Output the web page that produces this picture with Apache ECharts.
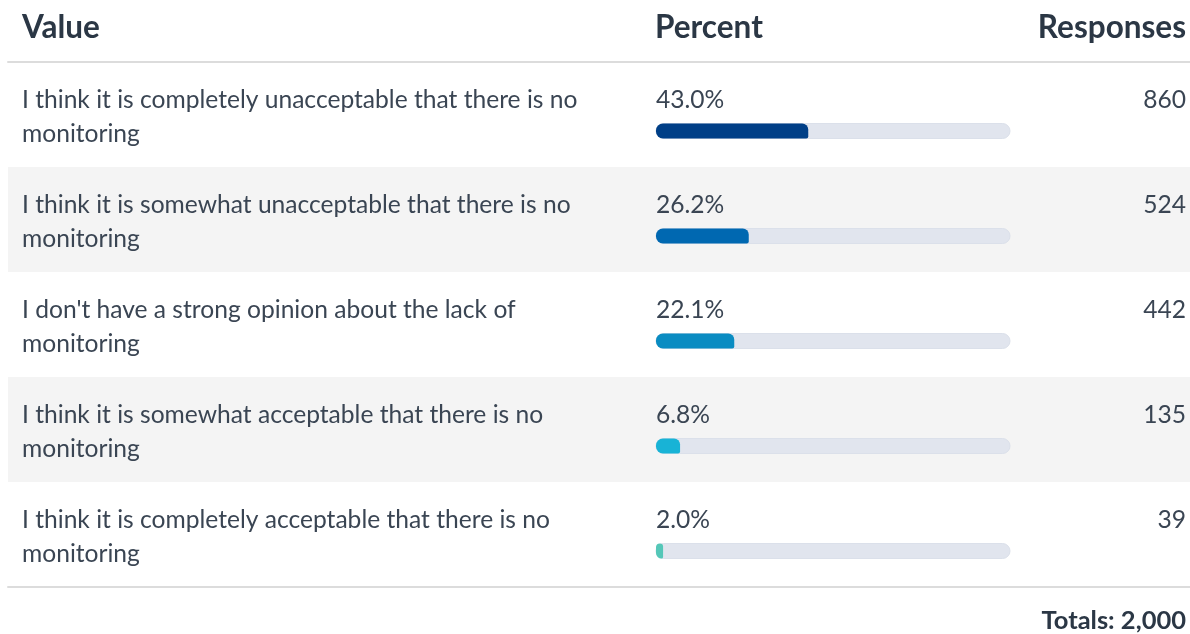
<!DOCTYPE html>
<html>
<head>
<meta charset="utf-8">
<script src="https://cdn.jsdelivr.net/npm/echarts@6/dist/echarts.min.js"></script>
<style>
  html, body { margin: 0; padding: 0; background: #ffffff; }
  #chart { width: 1190px; height: 634px; }
</style>
</head>
<body>
<div id="chart"></div>
<script>
// Survey answers, in table order
const answers = [
  "I think it is completely unacceptable that there is no monitoring",
  "I think it is somewhat unacceptable that there is no monitoring",
  "I don't have a strong opinion about the lack of monitoring",
  "I think it is somewhat acceptable that there is no monitoring",
  "I think it is completely acceptable that there is no monitoring"
];
const percents = [43.0, 26.2, 22.1, 6.8, 2.0];
const responses = [860, 524, 442, 135, 39];
const barColors = ["#003f87", "#0068b1", "#0a8cc2", "#18b3d6", "#55c7b8"];
const headers = ["Value", "Percent", "Responses"];
const totalResponses = 2000;

const FONT = "Lato";
const TEXT = "#3a4553";
const HEAD = "#2b3745";
const BODY_SIZE = 24.6;

const chart = echarts.init(document.getElementById("chart"), null, { renderer: "canvas" });

const option = {
  backgroundColor: "#ffffff",
  animation: false,
  textStyle: { fontFamily: FONT },
  grid: [
    // table rows: bands, answer text and response counts
    { left: 8, right: 0, top: 62, height: 525 },
    // progress bars in the Percent column
    { left: 656, width: 354, top: 78.5, height: 525 }
  ],
  xAxis: [
    { gridIndex: 0, type: "value", min: 0, max: 1, position: "top",
      axisLine: { show: true, onZero: false, lineStyle: { color: "#dcdcdc", width: 2 } },
      axisTick: { show: false }, axisLabel: { show: false }, splitLine: { show: false } },
    { gridIndex: 0, type: "value", min: 0, max: 1, position: "bottom",
      axisLine: { show: true, onZero: false, lineStyle: { color: "#dcdcdc", width: 2 } },
      axisTick: { show: false }, axisLabel: { show: false }, splitLine: { show: false } },
    { gridIndex: 1, type: "value", min: 0, max: 100, show: false }
  ],
  yAxis: [
    { gridIndex: 0, type: "category", inverse: true, data: answers, position: "left",
      axisLine: { show: false }, axisTick: { show: false }, splitLine: { show: false },
      splitArea: { show: true, areaStyle: { color: ["rgba(255,255,255,0)", "#f4f4f4"] } },
      axisLabel: {
        inside: true, margin: 14, align: "left",
        // a small spacer line nudges the two text lines down within the row
        formatter: v => "{s|}\n{t|" + v.replace(/ (\S+)$/, "}\n{t|$1") + "}",
        rich: {
          s: { height: 5, lineHeight: 5 },
          t: { color: TEXT, fontSize: BODY_SIZE, fontFamily: FONT, lineHeight: 34 }
        }
      } },
    { gridIndex: 0, type: "category", inverse: true, data: responses.map(String), position: "right",
      axisLine: { show: false }, axisTick: { show: false }, splitLine: { show: false },
      axisLabel: {
        inside: true, margin: 4, align: "right",
        // an empty second line lifts the count to the row's first text line
        formatter: v => "{n|" + v + "}\n{g|}",
        rich: {
          n: { color: TEXT, fontSize: BODY_SIZE, fontFamily: FONT, lineHeight: 26, align: "right" },
          g: { height: 29, lineHeight: 29 }
        }
      } },
    { gridIndex: 1, type: "category", inverse: true, data: answers, show: false }
  ],
  series: [
    {
      type: "bar",
      xAxisIndex: 2, yAxisIndex: 2,
      barWidth: 15,
      data: percents.map((v, i) => ({ value: v, itemStyle: { color: barColors[i] } })),
      itemStyle: { borderRadius: [7, 6, 2, 7] },
      showBackground: true,
      backgroundStyle: { color: "#e1e5ee", borderRadius: 8, borderColor: "#dbe0ea", borderWidth: 1 },
      label: {
        show: true,
        position: [0, -36],
        color: TEXT, fontSize: BODY_SIZE, fontFamily: FONT,
        formatter: p => p.value.toFixed(1) + "%"
      }
    }
  ],
  graphic: [
    { type: "text", x: 22, y: 28, style: { text: headers[0], fill: HEAD, font: "bold 31.5px " + FONT, verticalAlign: "middle" } },
    { type: "text", x: 655, y: 28, style: { text: headers[1], fill: HEAD, font: "bold 31.5px " + FONT, verticalAlign: "middle" } },
    { type: "text", x: 1186, y: 28, style: { text: headers[2], fill: HEAD, font: "bold 31.5px " + FONT, verticalAlign: "middle", align: "right" } },
    { type: "text", x: 1186, y: 621, style: {
        text: "Totals: " + totalResponses.toLocaleString("en-US"), fill: HEAD, font: "bold 25.5px " + FONT,
        verticalAlign: "middle", align: "right" } }
  ]
};

chart.setOption(option);

// faint column dividers inside the shaded rows
const dividers = [];
answers.forEach((a, i) => {
  if (i % 2 !== 1) return;
  const cy = chart.convertToPixel({ yAxisIndex: 0 }, i);
  [641, 1023].forEach(x => {
    dividers.push({ type: "line", silent: true,
      shape: { x1: x + 0.5, y1: cy - 52.5, x2: x + 0.5, y2: cy + 52.5 },
      style: { stroke: "#e6e6e6", lineWidth: 1 } });
  });
});
chart.setOption({ graphic: option.graphic.concat(dividers) });
</script>
</body>
</html>
